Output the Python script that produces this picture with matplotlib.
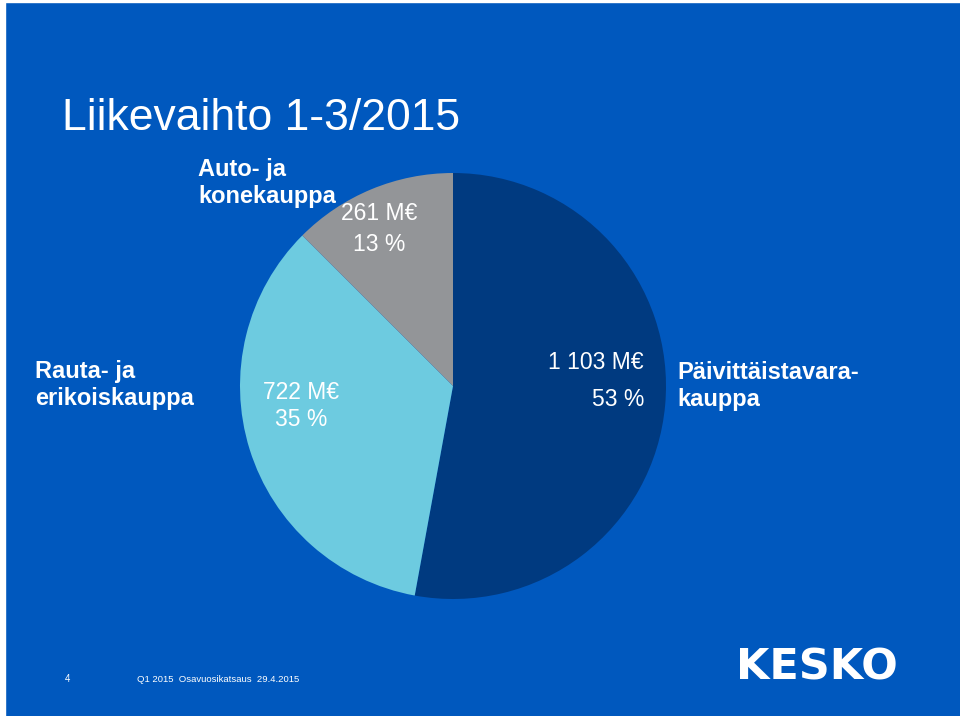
import matplotlib.pyplot as plt
from matplotlib.patches import Rectangle

plt.rcParams['font.family'] = ['Liberation Sans', 'DejaVu Sans']

# Data
segments = ["Päivittäistavarakauppa", "Rauta- ja erikoiskauppa", "Auto- ja konekauppa"]
sales_meur = [1103, 722, 261]
shares_pct = [53, 35, 13]
colors = ["#003A80", "#6DCBE0", "#939598"]

W, H = 960, 716
bg = "#0058BE"

fig = plt.figure(figsize=(W / 100, H / 100), dpi=100)
fig.patch.set_facecolor(bg)
# thin white strip on the left / top like the slide edge
fig.patches.append(Rectangle((0, 0), 5 / W, 1, transform=fig.transFigure, color="white", zorder=0))
fig.patches.append(Rectangle((0, 1 - 1.5 / H), 1, 1.5 / H, transform=fig.transFigure, color="white", zorder=0))

def px(x, y):
    return x / W, 1 - y / H

# pie, centre (453, 386), radius 213 px
cx, cy, r = 453, 386, 213
ax = fig.add_axes([(cx - r) / W, (H - cy - r) / H, 2 * r / W, 2 * r / H])
ax.pie(sales_meur, colors=colors, startangle=90, counterclock=False, radius=1,
       wedgeprops=dict(linewidth=0))
ax.set_xlim(-1, 1)
ax.set_ylim(-1, 1)
ax.set_aspect("equal")
ax.axis("off")

fig.text(*px(62, 118), "Liikevaihto 1-3/2015", color="white", fontsize=32, va="center", ha="left")

# category labels
bold = dict(color="white", fontsize=17, fontweight="bold", linespacing=1.22)
fig.text(*px(198, 183), "Auto- ja\nkonekauppa", va="center", ha="left", **bold)
fig.text(*px(35, 385), "Rauta- ja\nerikoiskauppa", va="center", ha="left", **bold)
fig.text(*px(677, 386), "Päivittäistavara-\nkauppa", va="center", ha="left", **bold)

# value labels
fig.text(*px(379, 229), f"{sales_meur[2]} M€\n{shares_pct[2]} %", va="center", ha="center",
         color="white", fontsize=16.5, linespacing=1.42)
fig.text(*px(301, 406), f"{sales_meur[1]} M€\n{shares_pct[1]} %", va="center", ha="center",
         color="white", fontsize=16.5, linespacing=1.22)
big = f"{sales_meur[0]:,}".replace(",", " ")
fig.text(*px(644, 381), f"{big} M€\n{shares_pct[0]} %", va="center", ha="right", linespacing=1.75,
         color="white", fontsize=16.5, multialignment="right")

# footer
fig.text(*px(65, 679), "4", color="white", fontsize=7, va="center", ha="left")
fig.text(*px(137, 679), "Q1 2015  Osavuosikatsaus  29.4.2015", color="white", fontsize=6.8,
         va="center", ha="left")
fig.text(*px(736, 667), "KESKO", color="white", fontsize=31, fontweight="bold",
         va="center", ha="left", family="DejaVu Sans")

fig.savefig("out.png", dpi=100, facecolor=bg)
